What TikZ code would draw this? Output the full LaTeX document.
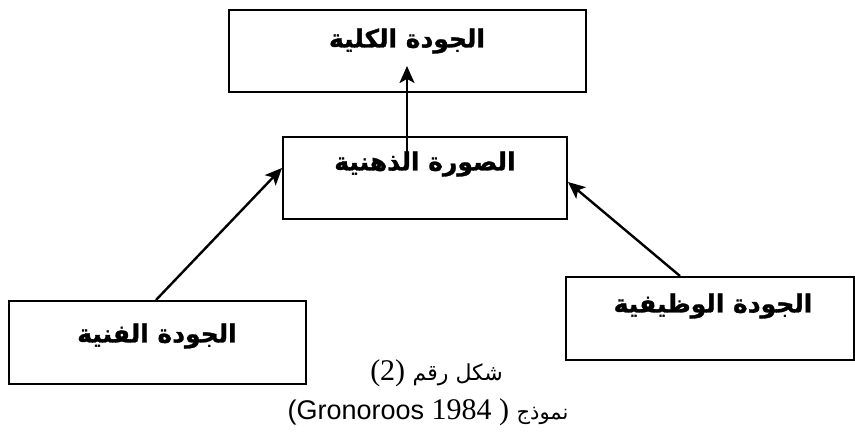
\documentclass[tikz,border=0pt]{standalone}
\usepackage{fontspec}
\usetikzlibrary{arrows.meta,calc}
\TeXXeTstate=1
\newfontfamily\arabicfont[Script=Arabic,BoldFeatures={FakeBold=1.2}]{DejaVu Sans}
\newfontfamily\serifnum{Liberation Serif}
\newfontfamily\sanslat{Liberation Sans}
\begin{document}
\begin{tikzpicture}[x=1pt,y=-1pt,
  box/.style={draw=black,line width=2pt,rectangle,inner sep=0pt},
  lbl/.style={inner sep=0pt,font=\arabicfont\bfseries\fontsize{25}{30}\selectfont},
  conn/.style={line width=2.4pt,-{Stealth[length=17pt,width=15pt,inset=4pt]}},
  captext/.style={inner sep=0pt}]
\useasboundingbox (0,0) rectangle (855,445);
% boxes
\node[box,minimum width=357pt,minimum height=82pt] (tbox) at (407.5,51) {};
\node[box,minimum width=284pt,minimum height=82pt] (mbox) at (425,178) {};
\node[box,minimum width=297pt,minimum height=83pt] (lbox) at (157.5,342.5) {};
\node[box,minimum width=288pt,minimum height=83pt] (rbox) at (710,318.5) {};
% labels
\node[lbl] (tlbl) at (407,41) {\beginR الجودة الكلية\endR};
\node[lbl] (mlbl) at (425,164) {\beginR الصورة الذهنية\endR};
\node[lbl] (llbl) at (157,336) {\beginR الجودة الفنية\endR};
\node[lbl] (rlbl) at (713,306) {\beginR الجودة الوظيفية\endR};
% connector end points
\coordinate (lstart) at ($(lbox.north west)+(148,0)$);
\coordinate (lend) at ($(mbox.north west)+(0,32)$);
\coordinate (rstart) at ($(rbox.north west)+(115,0)$);
\coordinate (rend) at ($(mbox.north east)+(0,46)$);
\coordinate (vstart) at ($(mbox.north west)+(125,16)$);
\coordinate (vend) at ($(tbox.north west)+(179,57)$);
\draw[conn] (lstart) -- (lend);
\draw[conn] (rstart) -- (rend);
\draw[conn] (vstart) -- (vend);
% captions
\node[captext] (cap1) at (436.5,373) {\serifnum\fontsize{30}{34}\selectfont (2) \arabicfont\fontsize{22}{26}\selectfont\beginR شكل رقم\endR};
\node[captext] (cap2) at (428,412) {\sanslat\fontsize{27}{32}\selectfont (Gronoroos \serifnum\fontsize{30}{34}\selectfont 1984 ) \arabicfont\fontsize{21}{26}\selectfont\beginR نموذج\endR};
\end{tikzpicture}
\end{document}
